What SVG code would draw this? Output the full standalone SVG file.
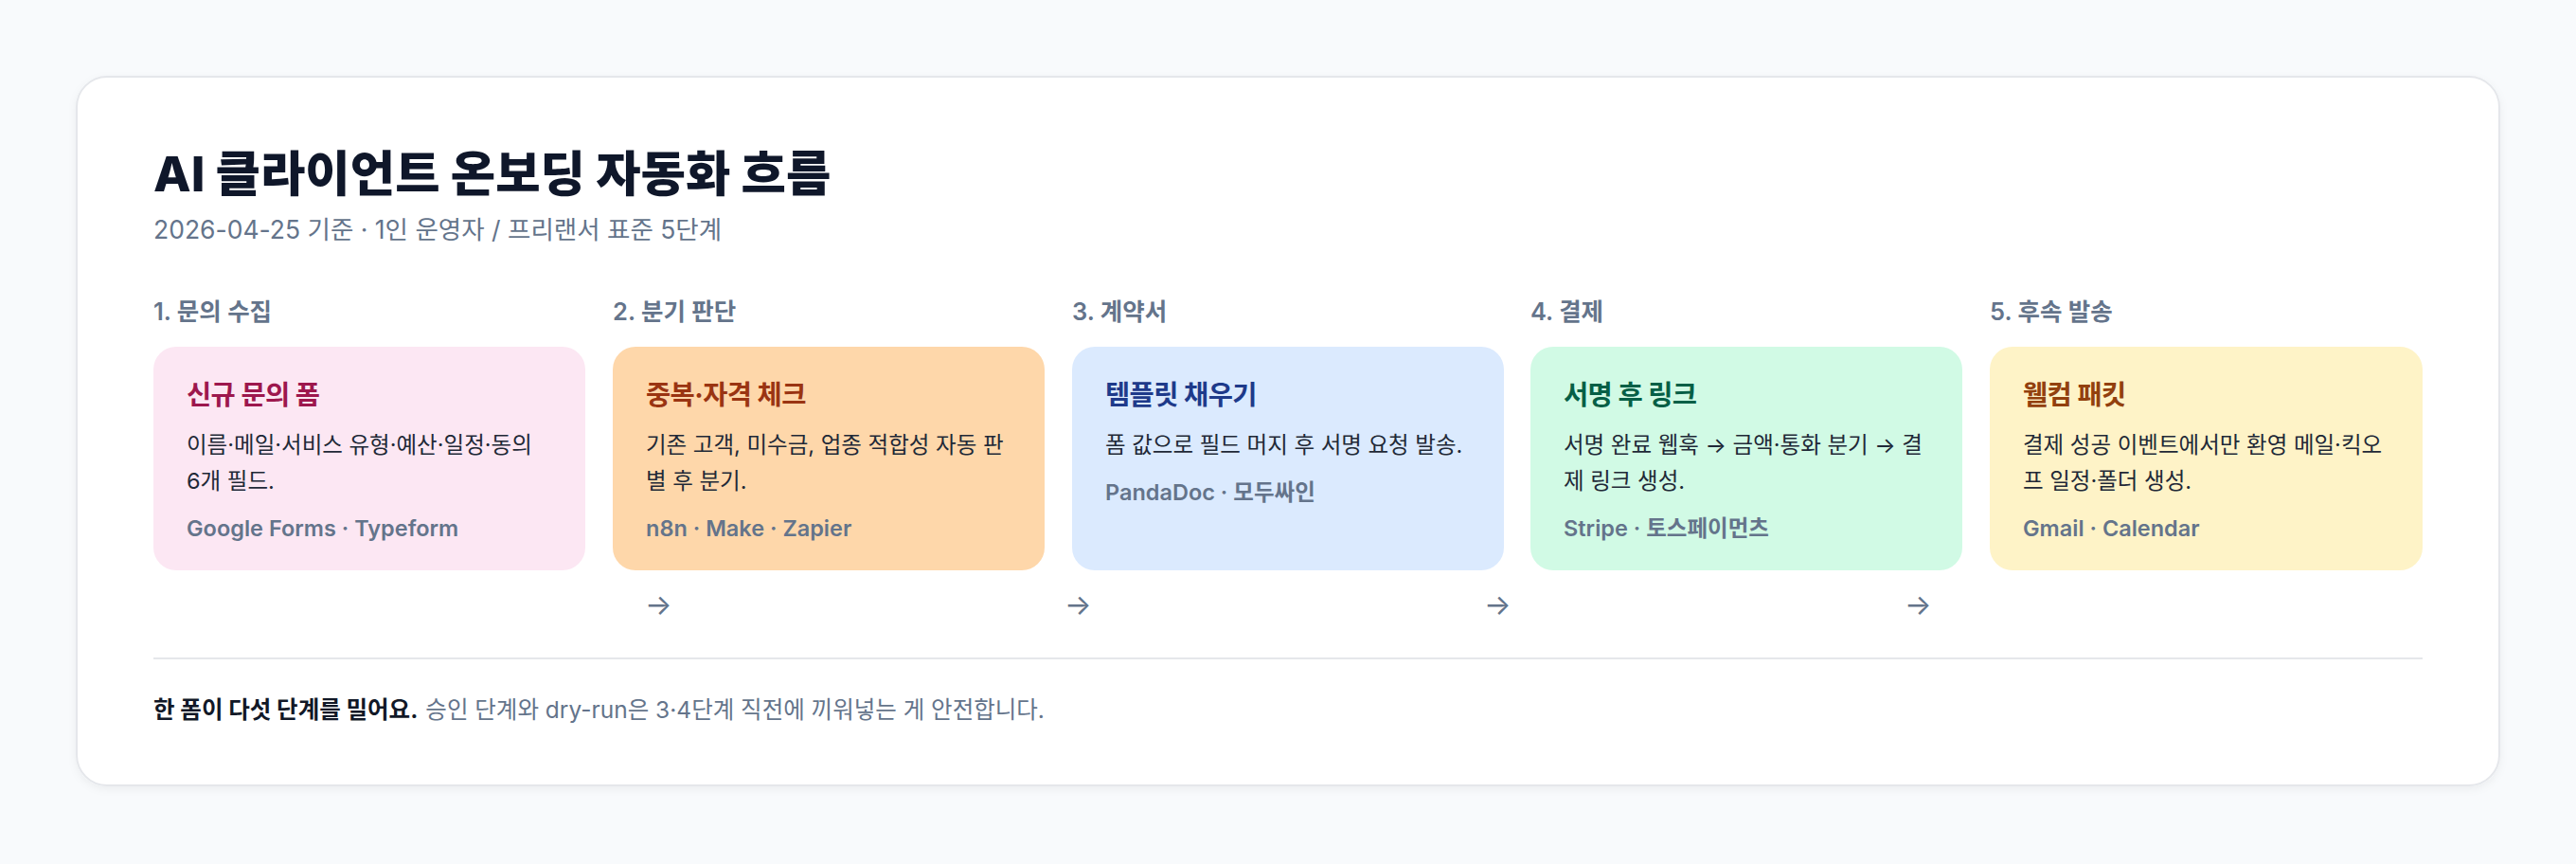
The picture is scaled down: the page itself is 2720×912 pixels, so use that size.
<svg xmlns="http://www.w3.org/2000/svg" width="2720" height="912" viewBox="0 0 2720 912">
  <defs>
    <filter id="shadow" x="-5%" y="-5%" width="110%" height="115%">
      <feDropShadow dx="0" dy="3" stdDeviation="4" flood-color="#0f172a" flood-opacity="0.05"/>
    </filter>
  </defs>
  <style>
    text { font-family: Inter, "Noto Sans CJK KR", sans-serif; }
    .title { font-size: 51.5px; font-weight: 800; fill: #0f172a; }
    .sub { font-size: 26.5px; font-weight: 400; fill: #64748b; }
    .step { font-size: 25.5px; font-weight: 600; fill: #64748b; }
    .ctitle { font-size: 28.5px; font-weight: 700; letter-spacing: -0.6px; }
    .body { font-size: 23.5px; font-weight: 400; fill: #1f2937; }
    .tools { font-size: 23.5px; font-weight: 600; fill: #64748b; }
    .arrow { font-size: 30px; font-weight: 400; fill: #64748b; }
    .foot-b { font-size: 24.5px; font-weight: 700; fill: #111827; }
    .foot { font-size: 24.5px; font-weight: 400; fill: #64748b; }
    .card { stroke: none; }
  </style>

  <rect x="0" y="0" width="2720" height="912" fill="#f8fafc"/>

  <g id="panel">
    <rect x="81" y="81" width="2558" height="748" rx="32" fill="#ffffff" stroke="#e5e7eb" stroke-width="2" filter="url(#shadow)"/>
  </g>

  <g id="header">
    <text class="title" x="162" y="202">AI 클라이언트 온보딩 자동화 흐름</text>
    <text class="sub" x="162" y="252">2026-04-25 기준 · 1인 운영자 / 프리랜서 표준 5단계</text>
  </g>

  <g id="step1">
    <text class="step" x="162" y="338">1. 문의 수집</text>
    <rect class="card" x="162" y="366" width="456" height="236" rx="24" fill="#fce7f3"/>
    <text class="ctitle" x="197" y="427" fill="#9d174d">신규 문의 폼</text>
    <text class="body" x="197" y="478">이름·메일·서비스 유형·예산·일정·동의</text>
    <text class="body" x="197" y="516">6개 필드.</text>
    <text class="tools" x="197" y="566">Google Forms · Typeform</text>
  </g>

  <g id="step2">
    <text class="step" x="647" y="338">2. 분기 판단</text>
    <rect class="card" x="647" y="366" width="456" height="236" rx="24" fill="#fed7aa"/>
    <text class="ctitle" x="682" y="427" fill="#9a3412">중복·자격 체크</text>
    <text class="body" x="682" y="478">기존 고객, 미수금, 업종 적합성 자동 판</text>
    <text class="body" x="682" y="516">별 후 분기.</text>
    <text class="tools" x="682" y="566">n8n · Make · Zapier</text>
  </g>

  <g id="step3">
    <text class="step" x="1132" y="338">3. 계약서</text>
    <rect class="card" x="1132" y="366" width="456" height="236" rx="24" fill="#dbeafe"/>
    <text class="ctitle" x="1167" y="427" fill="#1e3a8a">템플릿 채우기</text>
    <text class="body" x="1167" y="478">폼 값으로 필드 머지 후 서명 요청 발송.</text>
    <text class="tools" x="1167" y="528">PandaDoc · 모두싸인</text>
  </g>

  <g id="step4">
    <text class="step" x="1616" y="338">4. 결제</text>
    <rect class="card" x="1616" y="366" width="456" height="236" rx="24" fill="#d1fae5"/>
    <text class="ctitle" x="1651" y="427" fill="#065f46">서명 후 링크</text>
    <text class="body" x="1651" y="478">서명 완료 웹훅 → 금액·통화 분기 → 결</text>
    <text class="body" x="1651" y="516">제 링크 생성.</text>
    <text class="tools" x="1651" y="566">Stripe · 토스페이먼츠</text>
  </g>

  <g id="step5">
    <text class="step" x="2101" y="338">5. 후속 발송</text>
    <rect class="card" x="2101" y="366" width="457" height="236" rx="24" fill="#fef3c7"/>
    <text class="ctitle" x="2136" y="427" fill="#92400e">웰컴 패킷</text>
    <text class="body" x="2136" y="478">결제 성공 이벤트에서만 환영 메일·킥오</text>
    <text class="body" x="2136" y="516">프 일정·폴더 생성.</text>
    <text class="tools" x="2136" y="566">Gmail · Calendar</text>
  </g>

  <g id="connectors">
    <text class="arrow" x="681" y="649">→</text>
    <text class="arrow" x="1124" y="649">→</text>
    <text class="arrow" x="1567" y="649">→</text>
    <text class="arrow" x="2011" y="649">→</text>
  </g>

  <g id="footer">
    <line x1="162" y1="695" x2="2558" y2="695" stroke="#e5e7eb" stroke-width="2"/>
    <text x="162" y="758"><tspan class="foot-b">한 폼이 다섯 단계를 밀어요.</tspan><tspan class="foot" dx="8">승인 단계와 dry-run은 3·4단계 직전에 끼워넣는 게 안전합니다.</tspan></text>
  </g>
</svg>
